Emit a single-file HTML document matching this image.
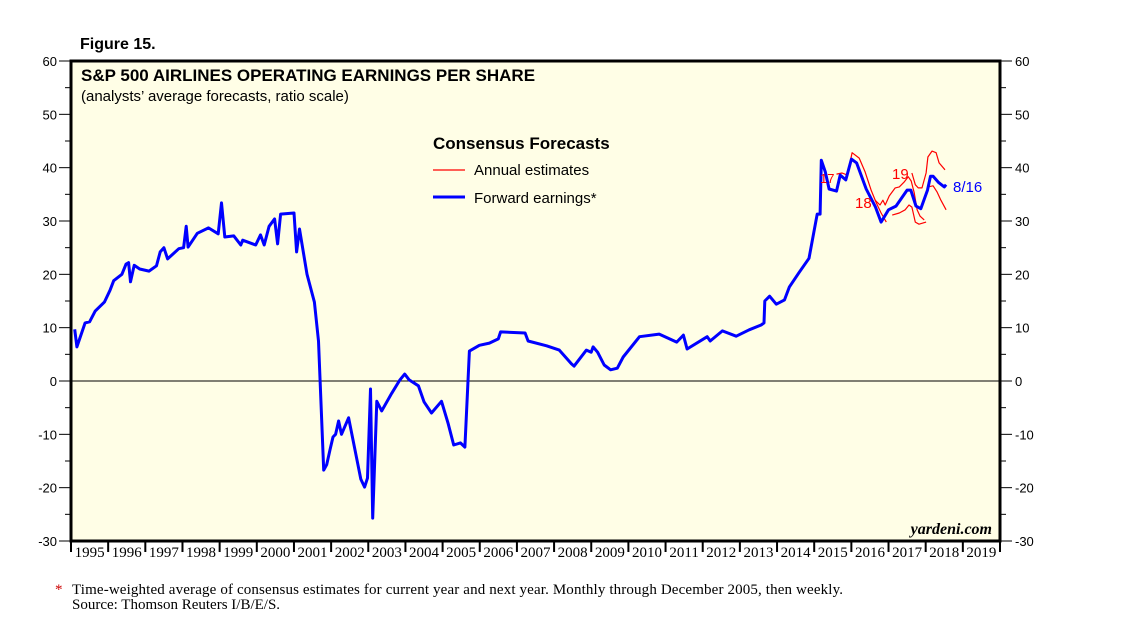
<!DOCTYPE html>
<html><head><meta charset="utf-8"><style>
body{margin:0;background:#fff;width:1138px;height:639px;overflow:hidden}
svg{display:block}
text{font-family:"Liberation Sans",sans-serif}
</style></head><body>
<svg id="chart" width="1138" height="639">
<text x="80" y="49" font-size="16" font-weight="bold">Figure 15.</text>
<rect x="71" y="61" width="929" height="480" fill="#fffee6"/>
<g id="axes"></g>
<g id="series"></g>
<rect x="71" y="61" width="929" height="480" fill="none" stroke="#000" stroke-width="3"/>
<text x="81" y="81" font-size="17" font-weight="bold">S&amp;P 500 AIRLINES OPERATING EARNINGS PER SHARE</text>
<text x="81" y="101" font-size="15">(analysts’ average forecasts, ratio scale)</text>
<text x="433" y="149" font-size="17" font-weight="bold">Consensus Forecasts</text>
<line x1="433" y1="170" x2="465" y2="170" stroke="#f00" stroke-width="1.2"/>
<text x="474" y="175" font-size="15">Annual estimates</text>
<line x1="433" y1="197" x2="465" y2="197" stroke="#00f" stroke-width="3"/>
<text x="474" y="203" font-size="15">Forward earnings*</text>
<text x="820" y="183" font-size="13" fill="#f00">17</text>
<text x="855" y="208" font-size="15" fill="#f00">18</text>
<text x="892" y="179" font-size="15" fill="#f00">19</text>
<text x="953" y="192" font-size="15" fill="#00f">8/16</text>
<text x="992" y="534" font-size="16" font-weight="bold" font-style="italic" text-anchor="end" style="font-family:'Liberation Serif',serif">yardeni.com</text>
<text x="55" y="594" font-size="15" fill="#c00" style="font-family:'Liberation Serif',serif">*</text>
<text x="72" y="594" font-size="15" style="font-family:'Liberation Serif',serif" textLength="771">Time-weighted average of consensus estimates for current year and next year. Monthly through December 2005, then weekly.</text>
<text x="72" y="609" font-size="15" style="font-family:'Liberation Serif',serif">Source: Thomson Reuters I/B/E/S.</text>
</svg>
<script>
const yTicks=[60,50,40,30,20,10,0,-10,-20,-30];
const years=[1995,1996,1997,1998,1999,2000,2001,2002,2003,2004,2005,2006,2007,2008,2009,2010,2011,2012,2013,2014,2015,2016,2017,2018,2019];
const fwdYears=[1995.1,1995.16,1995.38,1995.5,1995.65,1995.9,1996.05,1996.15,1996.37,1996.48,1996.55,1996.6,1996.7,1996.85,1997.1,1997.3,1997.4,1997.5,1997.6,1997.9,1998.03,1998.1,1998.15,1998.4,1998.7,1998.96,1999.05,1999.14,1999.38,1999.57,1999.62,1999.97,2000.1,2000.2,2000.33,2000.48,2000.56,2000.64,2001.0,2001.07,2001.15,2001.35,2001.55,2001.66,2001.8,2001.88,2001.97,2002.05,2002.12,2002.2,2002.28,2002.47,2002.66,2002.8,2002.9,2002.98,2003.06,2003.12,2003.23,2003.36,2003.63,2003.85,2003.98,2004.1,2004.35,2004.5,2004.7,2004.97,2005.15,2005.3,2005.48,2005.6,2005.72,2005.99,2006.26,2006.5,2006.56,2007.22,2007.3,2007.8,2008.14,2008.47,2008.54,2008.87,2009.0,2009.05,2009.17,2009.35,2009.52,2009.7,2009.86,2010.3,2010.83,2011.3,2011.48,2011.58,2012.12,2012.2,2012.53,2012.9,2013.25,2013.57,2013.65,2013.67,2013.8,2013.98,2014.2,2014.33,2014.6,2014.86,2015.08,2015.16,2015.19,2015.3,2015.4,2015.6,2015.7,2015.85,2016.0,2016.14,2016.4,2016.65,2016.8,2017.0,2017.2,2017.5,2017.6,2017.74,2017.87,2018.05,2018.13,2018.2,2018.35,2018.5,2018.55];
const fwdValues=[9.7,6.4,10.9,11.1,13.1,14.8,17,18.8,20,21.9,22.2,18.6,21.7,21,20.6,21.6,24.2,25,22.9,24.8,25,29,25.1,27.7,28.7,27.6,33.4,27,27.2,25.5,26.4,25.5,27.4,25.5,29,30.4,25.7,31.3,31.5,24.2,28.5,20,14.8,7.5,-16.7,-15.7,-12.9,-10.5,-10,-7.5,-10,-6.9,-13.5,-18.4,-19.9,-18.2,-1.5,-25.7,-3.8,-5.6,-2.3,0.2,1.3,0.2,-0.9,-3.9,-6,-3.8,-8,-12,-11.6,-12.4,5.6,6.7,7.1,7.9,9.2,9,7.5,6.6,5.8,3.2,2.8,5.8,5.4,6.4,5.4,3,2.1,2.4,4.5,8.3,8.8,7.3,8.6,6,8.3,7.5,9.4,8.4,9.6,10.5,10.9,15,15.9,14.4,15.2,17.6,20.4,23,31.3,31.3,41.4,39.2,36,35.6,38.6,37.7,41.6,40.9,36,32.6,29.8,32.1,32.8,35.8,35.8,32.8,32.3,35.8,38.4,38.4,37.2,36.4,36.8];
const est16Years=[2015.6,2015.75,2015.89,2016.02,2016.21,2016.37,2016.53,2016.67,2016.8,2016.94];
const est16Values=[38.8,39.0,38.6,42.8,41.8,39.2,35.8,33.4,31.5,29.8];
const est17Years=[2016.64,2016.77,2016.85,2016.91,2017.02,2017.18,2017.29,2017.42,2017.53,2017.61,2017.69,2017.77,2017.85,2017.96];
const est17Values=[33.9,33.0,33.9,33.0,34.7,36.2,36.4,37.3,38.3,37.5,35.3,32.1,30.9,30.2];
const est17bYears=[2017.1,2017.29,2017.45,2017.55,2017.63,2017.72,2017.82,2018.01];
const est17bValues=[31.1,31.5,32.1,33.0,32.6,29.8,29.4,29.8];
const est19Years=[2017.63,2017.72,2017.8,2017.9,2018.01,2018.06,2018.17,2018.28,2018.36,2018.52];
const est19Values=[39.0,36.8,36.2,36.2,39.0,42.0,43.1,42.8,40.9,39.6];
const est18Years=[2018.06,2018.2,2018.31,2018.41,2018.55];
const est18Values=[36.4,36.6,35.4,33.9,32.1];

const NS='http://www.w3.org/2000/svg';
const X0=71,X1=1000,Y0=61,Y1=541;
const xS=yr=>X0+(yr-1995)/25*(X1-X0);
const yS=v=>Y0+(60-v)/90*(Y1-Y0);
function mk(tag,attrs,parent){const e=document.createElementNS(NS,tag);for(const k in attrs)e.setAttribute(k,attrs[k]);parent.appendChild(e);return e;}
const axes=document.getElementById('axes'),series=document.getElementById('series');
yTicks.forEach(v=>{
  const y=yS(v);
  let t=mk('text',{x:57,y:y+5,'font-size':13,'text-anchor':'end'},axes);t.textContent=v;
  
  
  t=mk('text',{x:1015,y:y+5,'font-size':13},axes);t.textContent=v;
  
  
  let l=mk('line',{x1:59,x2:71,y1:y,y2:y,stroke:'#000'},axes);
  
  
  l=mk('line',{x1:1000,x2:1012,y1:y,y2:y,stroke:'#000'},axes);
  
  
  if(v>-30){const ym=yS(v-5);
    l=mk('line',{x1:65,x2:71,y1:ym,y2:ym,stroke:'#000'},axes);
    
    
    l=mk('line',{x1:1000,x2:1006,y1:ym,y2:ym,stroke:'#000'},axes);
    
    }
});
years.forEach(yr=>{
  const x=xS(yr);
  const l=mk('line',{x1:x,x2:x,y1:541,y2:552,stroke:'#000','stroke-width':2},axes);
  
  
  const t=mk('text',{x:xS(yr+0.5),y:557,'font-size':15,'text-anchor':'middle',style:"font-family:'Liberation Serif',serif"},axes);
  t.textContent=yr;
  
  
});
const l1=mk('line',{x1:1000,x2:1000,y1:541,y2:552,stroke:'#000','stroke-width':2},axes);


const z=mk('line',{x1:X0,x2:X1,y1:yS(0),y2:yS(0),stroke:'#000','stroke-width':1},axes);


function line(xs,vs,color,w,name){
  const p=mk('polyline',{points:xs.map((x,i)=>xS(x).toFixed(1)+','+yS(vs[i]).toFixed(1)).join(' '),fill:'none',stroke:color,'stroke-width':w,'stroke-linejoin':'round'},series);
  
  
}
line(est16Years,est16Values,'#f00',1.2,'annual-estimate-2016');
line(est17Years,est17Values,'#f00',1.2,'annual-estimate-2018');
line(est17bYears,est17bValues,'#f00',1.2,'annual-estimate-2017');
line(est19Years,est19Values,'#f00',1.2,'annual-estimate-2019');
line(est18Years,est18Values,'#f00',1.2,'annual-estimate-2018-late');
line(fwdYears,fwdValues,'#00f',3,'forward-earnings-line');
</script>
</body></html>
